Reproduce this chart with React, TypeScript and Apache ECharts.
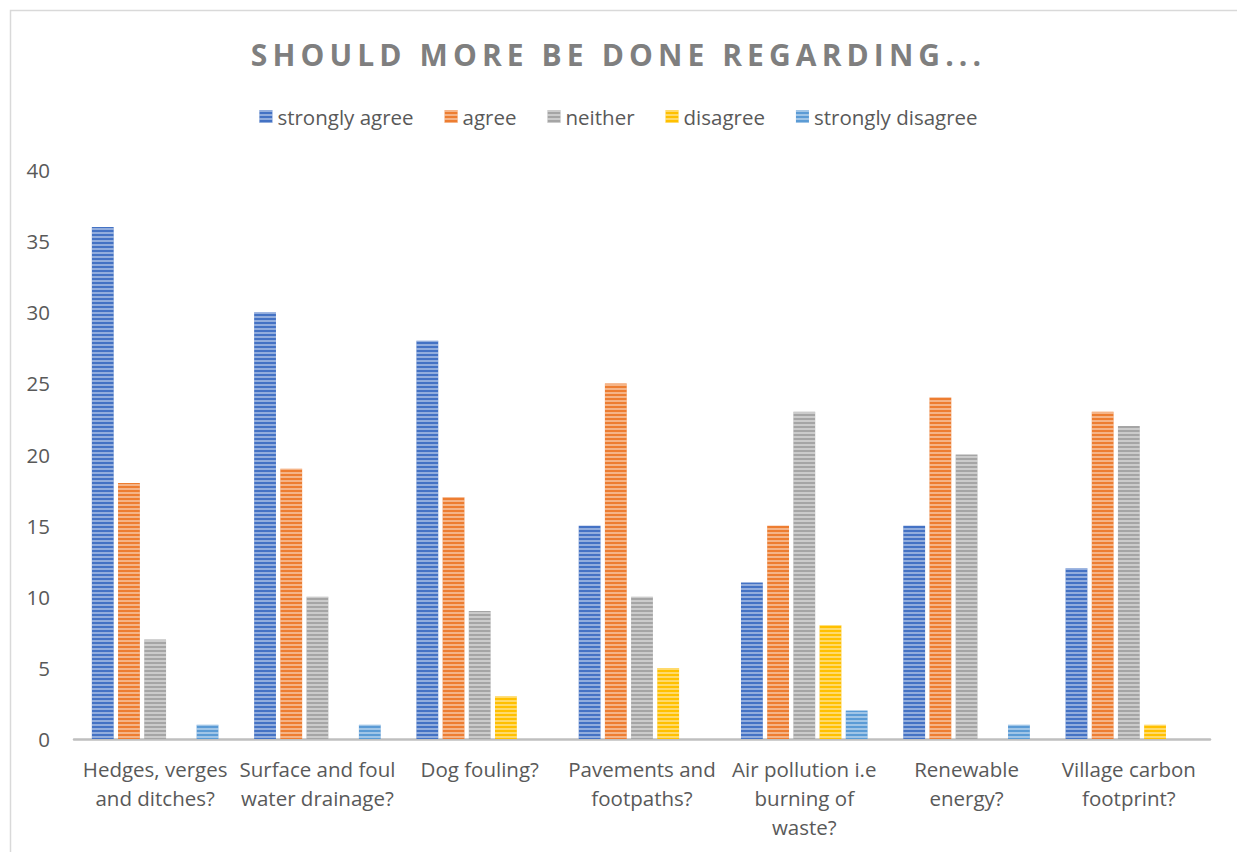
import React, { useEffect, useRef } from "react";
import * as echarts from "echarts";

const titleText = "SHOULD MORE BE DONE REGARDING...";
const categories = [
  "Hedges, verges\nand ditches?",
  "Surface and foul\nwater drainage?",
  "Dog fouling?",
  "Pavements and\nfootpaths?",
  "Air pollution i.e\nburning of\nwaste?",
  "Renewable\nenergy?",
  "Village carbon\nfootprint?",
];
const seriesNames = ["strongly agree", "agree", "neither", "disagree", "strongly disagree"];
const stronglyAgree = [36, 30, 28, 15, 11, 15, 12];
const agree = [18, 19, 17, 25, 15, 24, 23];
const neither = [7, 10, 9, 10, 23, 20, 22];
const disagree = [0, 0, 3, 5, 8, 0, 1];
const stronglyDisagree = [1, 1, 0, 0, 2, 1, 0];
const colors = ["#4472C4", "#ED7D31", "#A5A5A5", "#FFC000", "#5B9BD5"];
const yTicks = [0, 5, 10, 15, 20, 25, 30, 35, 40];

export default function App() {
  const ref = useRef<HTMLDivElement>(null);
  useEffect(() => {
    if (!ref.current) return;
    const chart = echarts.init(ref.current, null, { renderer: "svg" });
    const values = [stronglyAgree, agree, neither, disagree, stronglyDisagree];
    const font = "'Open Sans', sans-serif";
    chart.setOption({
      animation: false,
      backgroundColor: "#ffffff",
      graphic: [
        {
          type: "rect",
          shape: { x: 10.5, y: 10.5, width: 1260, height: 900 },
          style: { fill: "none", stroke: "#D9D9D9", lineWidth: 1.5 },
          silent: true,
          z: -1,
        },
      ],
      title: {
        text: titleText,
        left: "center",
        top: 34,
        padding: [5, 0, 5, 24],
        textStyle: {
          fontFamily: font,
          fontWeight: "bold",
          fontSize: 30,
          color: "#7F7F7F",
        },
      },
      legend: {
        top: 101,
        left: "center",
        itemWidth: 13,
        itemHeight: 13,
        itemGap: 31,
        icon: "rect",
        textStyle: { fontFamily: font, fontSize: 20.5, color: "#595959" },
        data: seriesNames,
      },
      grid: { left: 74, right: 27, top: 170, bottom: 113, containLabel: false },
      xAxis: {
        type: "category",
        data: categories,
        axisLine: { lineStyle: { color: "#BFBFBF", width: 2.5 } },
        axisTick: { show: false },
        axisLabel: {
          fontFamily: font,
          fontSize: 20.5,
          color: "#595959",
          margin: 15,
          lineHeight: 29,
          interval: 0,
        },
      },
      yAxis: {
        type: "value",
        min: 0,
        max: 40,
        interval: 5,
        splitLine: { show: false },
        axisLine: { show: false },
        axisTick: { show: false },
        axisLabel: {
          fontFamily: font,
          fontSize: 20.5,
          color: "#595959",
          margin: 24,
          formatter: (v: number) => (yTicks.includes(v) ? String(v) : ""),
        },
      },
      series: seriesNames.map((name, i) => ({
        name,
        type: "bar",
        data: values[i],
        barCategoryGap: "22%",
        barGap: "20%",
        itemStyle: {
          color: colors[i],
          decal: {
            symbol: "rect",
            symbolSize: 1,
            dashArrayX: [1, 0],
            dashArrayY: [1.4, 2],
            color: "rgba(255,255,255,0.42)",
            rotation: 0,
          },
        },
        emphasis: { disabled: true },
      })),
    });
    const applySpacing = () => {
      const texts = ref.current?.querySelectorAll("text") || [];
      texts.forEach((t) => {
        if (t.textContent === titleText) {
          (t as SVGTextElement).style.letterSpacing = "5.1px";
        }
      });
    };
    applySpacing();
    chart.on("finished", applySpacing);
    return () => chart.dispose();
  }, []);
  return (
    <div
      ref={ref}
      style={{ position: "fixed", left: 0, top: 0, width: 1237, height: 852 }}
    />
  );
}
